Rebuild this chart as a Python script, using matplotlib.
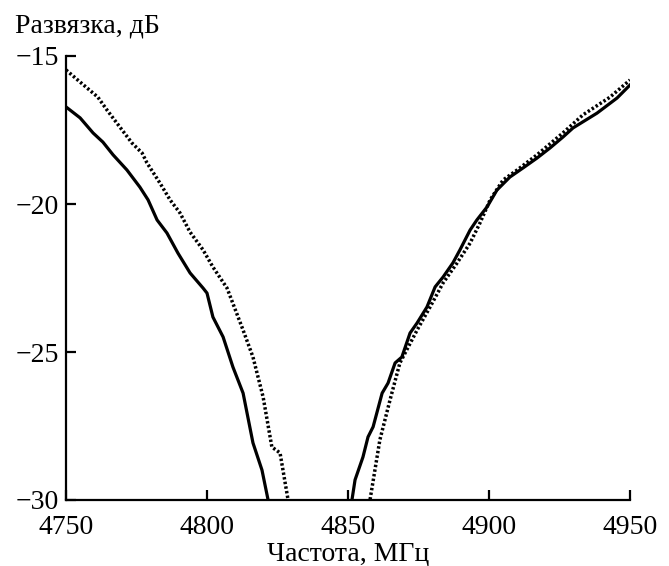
import matplotlib
matplotlib.use("Agg")
import matplotlib.pyplot as plt

plt.rcParams['font.family'] = ['Liberation Serif', 'DejaVu Serif']

# Solid curve (left and right branches)
solid_left_x = [4750.0, 4755.0, 4759.6, 4763.1, 4766.7, 4771.6, 4776.2, 4779.1, 4782.3,
                4785.8, 4789.7, 4794.0, 4798.6, 4800.0, 4802.1, 4805.7, 4809.2, 4812.8,
                4816.3, 4819.5, 4821.6, 4822.2]
solid_left_y = [-16.72, -17.09, -17.60, -17.91, -18.34, -18.85, -19.43, -19.86, -20.54,
                -20.98, -21.66, -22.33, -22.84, -23.01, -23.82, -24.49, -25.51, -26.39,
                -28.07, -28.99, -29.97, -30.3]
solid_right_x = [4851.2, 4851.4, 4852.5, 4855.3, 4857.1, 4858.9, 4862.1, 4864.2, 4866.7,
                 4869.1, 4872.0, 4874.5, 4878.0, 4880.9, 4883.7, 4887.2, 4889.7, 4893.3,
                 4895.7, 4899.3, 4902.8, 4907.4, 4912.1, 4917.0, 4921.6, 4926.2, 4929.8,
                 4938.3, 4945.4, 4950.0]
solid_right_y = [-30.3, -30.0, -29.32, -28.55, -27.87, -27.53, -26.39, -26.05, -25.37,
                 -25.17, -24.36, -24.02, -23.48, -22.80, -22.47, -21.99, -21.55, -20.88,
                 -20.54, -20.10, -19.53, -19.09, -18.78, -18.45, -18.11, -17.74, -17.43,
                 -16.93, -16.42, -15.98]

# Dotted curve (left and right branches)
dotted_left_x = [4750.0, 4755.0, 4761.3, 4764.5, 4769.1, 4773.4, 4777.0, 4778.7, 4783.3,
                 4786.9, 4790.4, 4794.0, 4798.6, 4802.1, 4807.1, 4812.8, 4816.3, 4819.9,
                 4823.0, 4825.9, 4828.7, 4829.0]
dotted_left_y = [-15.47, -15.88, -16.39, -16.82, -17.40, -17.94, -18.28, -18.61, -19.29,
                 -19.86, -20.30, -20.95, -21.55, -22.13, -22.84, -24.26, -25.17, -26.52,
                 -28.21, -28.41, -29.97, -30.3]
dotted_right_x = [4857.6, 4857.8, 4861.3, 4864.9, 4868.4, 4874.5, 4879.1, 4883.7, 4888.7,
                  4893.3, 4896.8, 4900.4, 4905.0, 4910.0, 4917.0, 4926.2, 4933.3, 4942.9,
                  4950.0]
dotted_right_y = [-30.3, -30.0, -27.97, -26.62, -25.37, -24.26, -23.48, -22.67, -21.99,
                  -21.32, -20.64, -19.86, -19.19, -18.85, -18.34, -17.60, -16.99, -16.39,
                  -15.81]

x_ticks = [4750, 4800, 4850, 4900, 4950]
y_ticks = [-30, -25, -20, -15]

fig = plt.figure(figsize=(6.69, 5.66), dpi=100)
ax = fig.add_axes([66/669, 1-500/566, (630-66)/669, (500-56)/566])

for xs, ys in [(solid_left_x, solid_left_y), (solid_right_x, solid_right_y)]:
    ax.plot(xs, ys, color='black', lw=2.3, solid_joinstyle='round', clip_on=True)
for xs, ys in [(dotted_left_x, dotted_left_y), (dotted_right_x, dotted_right_y)]:
    ax.plot(xs, ys, color='black', lw=2.5, linestyle=(0, (0.7, 0.65)),
            dash_capstyle='butt', clip_on=True)

ax.set_xlim(4750, 4950)
ax.set_ylim(-30, -15)
ax.set_xticks(x_ticks)
ax.set_yticks(y_ticks)
ax.spines['top'].set_visible(False)
ax.spines['right'].set_visible(False)
for s in ['left', 'bottom']:
    ax.spines[s].set_linewidth(1.6)
ax.tick_params(direction='in', length=7, width=1.6, labelsize=20, color='black')
ax.tick_params(axis='x', pad=11)
ax.tick_params(axis='y', pad=5)

fig.text(15/669, 1-32/566, 'Развязка, дБ', fontsize=20, ha='left', va='baseline')
fig.text(348/669, 1-561/566, 'Частота, МГц', fontsize=20, ha='center', va='baseline')

fig.savefig('out.png', dpi=100)
